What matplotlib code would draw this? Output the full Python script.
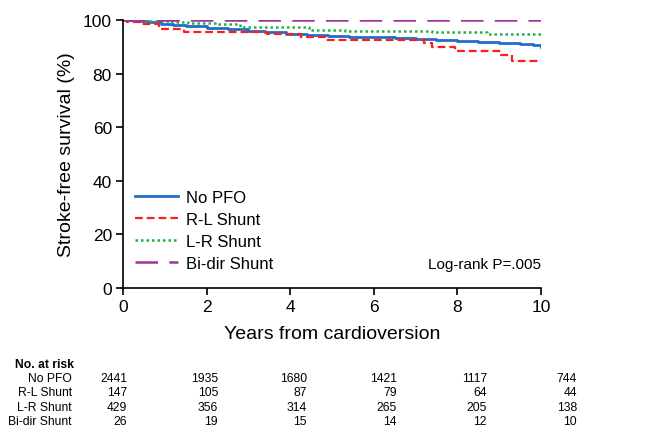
import matplotlib
matplotlib.use('Agg')
import matplotlib.pyplot as plt

plt.rcParams['font.family'] = ['Liberation Sans', 'DejaVu Sans']

# step curves: (years, % stroke-free)
t_nopfo = [0, 0.3, 0.6, 0.9, 1.2, 1.5, 2.0, 2.5, 3.0, 3.4, 3.9, 4.4, 4.9, 5.4, 6.0, 6.5, 7.0, 7.5, 8.0, 8.5, 9.0, 9.5, 9.8, 10]
s_nopfo = [100, 99.6, 99.1, 98.6, 98.1, 97.6, 97.0, 96.5, 96.0, 95.4, 94.9, 94.5, 94.1, 93.8, 93.5, 93.2, 92.9, 92.6, 92.2, 91.9, 91.4, 91.0, 90.5, 90.0]

t_rl = [0, 0.1, 0.45, 0.85, 1.45, 3.45, 4.25, 4.85, 7.2, 7.4, 7.95, 9.05, 9.3, 10]
s_rl = [100, 99.3, 98.6, 96.6, 95.6, 94.7, 93.8, 92.5, 91.5, 90.0, 88.4, 86.9, 84.8, 84.8]

t_lr = [0, 0.5, 1.1, 1.55, 2.2, 2.8, 4.45, 5.3, 7.4, 8.7, 10]
s_lr = [100, 99.6, 99.2, 98.7, 98.3, 97.3, 96.3, 96.0, 95.6, 94.8, 94.4]

t_bidir = [0, 10]
s_bidir = [100, 100]

groups = ['No PFO', 'R-L Shunt', 'L-R Shunt', 'Bi-dir Shunt']
at_risk = {
    'No PFO': [2441, 1935, 1680, 1421, 1117, 744],
    'R-L Shunt': [147, 105, 87, 79, 64, 44],
    'L-R Shunt': [429, 356, 314, 265, 205, 138],
    'Bi-dir Shunt': [26, 19, 15, 14, 12, 10],
}

fig = plt.figure(figsize=(6.65, 4.27), dpi=100)
ax = fig.add_axes([0.185, 0.323, 0.6285, 0.628])

ax.step(t_nopfo, s_nopfo, where='post', color='#1f6fc6', lw=2, label=groups[0])
ax.step(t_rl, s_rl, where='post', color='#ff1c1c', lw=1.6, dashes=(3.5, 1.8), label=groups[1])
ax.step(t_lr, s_lr, where='post', color='#1fb24a', lw=1.8, dashes=(1, 1.2), label=groups[2])
ax.step(t_bidir, s_bidir, where='post', color='#a0339a', lw=1.8, dashes=(9, 4.5), label=groups[3])

ax.set_xlim(0, 10)
ax.set_ylim(0, 100)
ax.set_xticks(range(0, 11, 2))
ax.set_yticks(range(0, 101, 20))
for s in ['top', 'right']:
    ax.spines[s].set_visible(False)
for s in ['left', 'bottom']:
    ax.spines[s].set_linewidth(1.2)
ax.tick_params(direction='out', length=5, width=1.2, labelsize=12.5, pad=3)
ax.set_xlabel('Years from cardioversion', fontsize=14, labelpad=8)
ax.set_ylabel('Stroke-free survival (%)', fontsize=14, labelpad=6)

ax.legend(loc='lower left', bbox_to_anchor=(0.0, 0.02), frameon=False, fontsize=12,
          handlelength=2.6, handletextpad=0.45, labelspacing=0.42, borderaxespad=0.3)
ax.text(10, 0.09, 'Log-rank P=.005', fontsize=11, ha='right', va='center',
        transform=ax.get_xaxis_transform())

# number-at-risk table, pixel positions in the 665x427 figure
W, H = 665.0, 427.0
col_right = [127, 218, 307, 397, 487, 577]
row_y = [379, 393, 408, 422]
fig.text(15 / W, 1 - 365 / H, 'No. at risk', fontsize=8.7, weight='bold', ha='left', va='center')
for g, y in zip(groups, row_y):
    fig.text(72 / W, 1 - y / H, g, fontsize=8.7, ha='right', va='center')
    for x, n in zip(col_right, at_risk[g]):
        fig.text(x / W, 1 - y / H, str(n), fontsize=8.7, ha='right', va='center')

fig.savefig('out.png', dpi=100)
